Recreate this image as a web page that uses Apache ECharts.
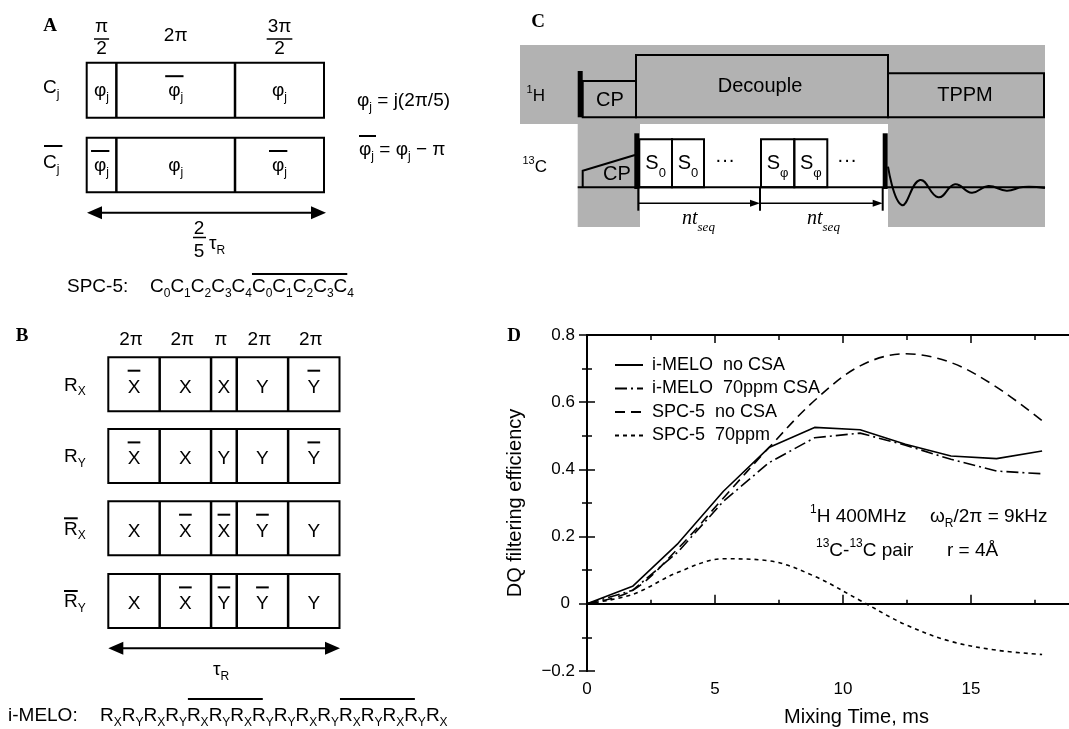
<!DOCTYPE html>
<html>
<head>
<meta charset="utf-8">
<script src="https://cdn.jsdelivr.net/npm/echarts@6/dist/echarts.min.js"></script>
<style>
html, body { margin: 0; padding: 0; background: #fff; }
#main { width: 1069px; height: 729px; }
</style>
</head>
<body>
<div id="main"></div>
<script>
// ---- panel D data (DQ filtering efficiency vs mixing time) ----
const mixTime = [0, 1.78, 3.56, 5.33, 7.11, 8.89, 10.67, 12.44, 14.22, 16, 17.78];
const meloNoCsa = [0, 0.052, 0.18, 0.335, 0.465, 0.525, 0.518, 0.475, 0.44, 0.432, 0.455];
const melo70 = [0, 0.04, 0.155, 0.305, 0.42, 0.494, 0.508, 0.472, 0.43, 0.395, 0.387];
const spcNoCsa = [0, 0.04, 0.165, 0.315, 0.465, 0.605, 0.708, 0.744, 0.718, 0.645, 0.545];
const spc70 = [0, 0.028, 0.094, 0.134, 0.128, 0.082, 0.01, -0.062, -0.112, -0.138, -0.151];
const seriesNames = ['i-MELO  no CSA', 'i-MELO  70ppm CSA', 'SPC-5  no CSA', 'SPC-5  70ppm'];

// ---- diagram content (panels A, B, C) ----
const phaseA = [0.5, 2, 1.5];            // pulse lengths in units of pi
const phaseLabelA = [['π', '2'], ['2π'], ['3π', '2']];
const cellsA = [['φ', '-φ', 'φ'], ['-φ', 'φ', '-φ']];
const phaseB = [2, 2, 1, 2, 2];
const phaseLabelB = ['2π', '2π', 'π', '2π', '2π'];
const cellsB = [
    ['-X', 'X', 'X', 'Y', '-Y'],
    ['-X', 'X', 'Y', 'Y', '-Y'],
    ['X', '-X', '-X', '-Y', 'Y'],
    ['X', '-X', '-Y', '-Y', 'Y']
];
const rowSubB = ['X', 'Y', 'X', 'Y'];
const rowBarB = [false, false, true, true];
const spcSubs = ['0', '1', '2', '3', '4', '0', '1', '2', '3', '4'];
const imeloSubs = ['X', 'Y', 'X', 'Y', 'X', 'Y', 'X', 'Y', 'Y', 'X', 'Y', 'X', 'Y', 'X', 'Y', 'X'];
const imeloBars = [[4, 7], [11, 14]];
// FID wiggle extrema (offset from end of pulse, offset from baseline)
const fidDx = [0, 13.7, 32, 50.3, 67, 83.7, 100.3, 118.7, 135, 157];
const fidDy = [-20.6, 17.7, -7.3, 10, -3, 5.4, -1.3, 3.4, -0.3, 0.7];

const SANS = '"Liberation Sans", Arial, sans-serif';
const SERIF = '"Liberation Serif", "Times New Roman", serif';
const BLACK = '#000';
const GRAY = '#b2b2b2';
const FS = 19;

const g = [];
const mctx = document.createElement('canvas').getContext('2d');
function fontStr(size, fam, weight, style) {
    return (style || 'normal') + ' ' + (weight || 'normal') + ' ' + size + 'px ' + (fam || SANS);
}
function tw(s, f) { mctx.font = f; return mctx.measureText(s).width; }
function text(x, y, s, f, align) {
    g.push({
        type: 'text', silent: true, x: x, y: y,
        style: { text: s, font: f, fill: BLACK, textAlign: align || 'left', textVerticalAlign: 'middle', align: align || 'left', verticalAlign: 'middle' }
    });
}
// a run of text pieces: [str, kind] kind '' normal, 'b' subscript, 'p' superscript
function run(x, y, toks, size, o) {
    o = o || {};
    const small = Math.round(size * 0.63);
    const items = toks.map(k => {
        const kind = k[1] || '';
        const f = fontStr(kind ? small : size, o.fam, o.weight, o.style);
        return { s: k[0], kind: kind, f: f, w: tw(k[0], f) };
    });
    const total = items.reduce((a, b) => a + b.w, 0);
    let cx = o.align === 'center' ? x - total / 2 : o.align === 'right' ? x - total : x;
    const pos = [];
    items.forEach(it => {
        const dy = it.kind === 'b' ? (o.subDy || size * 0.33) : it.kind === 'p' ? -size * 0.36 : 0;
        text(cx, y + dy, it.s, it.f);
        pos.push([cx, cx + it.w]);
        cx += it.w;
    });
    return pos;
}
function line(x1, y1, x2, y2, w) {
    g.push({ type: 'line', silent: true, shape: { x1: x1, y1: y1, x2: x2, y2: y2 }, style: { stroke: BLACK, lineWidth: w || 1.5 } });
}
function box(x, y, w, h, fill, lw) {
    g.push({ type: 'rect', silent: true, shape: { x: x, y: y, width: w, height: h }, style: fill ? { fill: fill } : { fill: 'none', stroke: BLACK, lineWidth: lw || 2 } });
}
function head(x, y, dir, len, half) {
    g.push({ type: 'polygon', silent: true, shape: { points: [[x, y], [x - dir * len, y - half], [x - dir * len, y + half]] }, style: { fill: BLACK } });
}
function dblArrow(x1, x2, y) {
    line(x1 + 8, y, x2 - 8, y, 2);
    head(x1, y, -1, 15, 6.5);
    head(x2, y, 1, 15, 6.5);
}
function edges(x0, x1, phases) {
    const tot = phases.reduce((a, b) => a + b, 0);
    const out = [x0];
    let acc = 0;
    phases.forEach(p => { acc += p; out.push(x0 + (x1 - x0) * acc / tot); });
    return out;
}
function cellLabel(cx, cy, lab, size, withJ, barDy) {
    const bar = lab[0] === '-';
    const s = bar ? lab.slice(1) : lab;
    const toks = withJ ? [[s], ['j', 'b']] : [[s]];
    const pos = run(cx, cy, toks, size, { align: 'center' });
    if (bar) {
        const ext = withJ ? 3 : 0;
        line(pos[0][0] - ext, cy - barDy, pos[0][1] + ext, cy - barDy, 2);
    }
}

// ================= panel A =================
text(50, 26, 'A', fontStr(19, SERIF, 'bold'), 'center');
const exA = edges(86.7, 324, phaseA);
phaseLabelA.forEach((lab, i) => {
    const cx = (exA[i] + exA[i + 1]) / 2;
    if (lab.length === 2) {
        const top = run(cx, 27, [[lab[0]]], FS, { align: 'center' });
        line(top[0][0] - 1, 39, top[0][1] + 1, 39, 1.5);
        run(cx, 49, [[lab[1]]], FS, { align: 'center' });
    } else {
        run(cx, 36, [[lab[0]]], FS, { align: 'center' });
    }
});
const rowsA = [[62.7, 117.7], [137.7, 192.3]];
rowsA.forEach((r, ri) => {
    box(exA[0], r[0], exA[exA.length - 1] - exA[0], r[1] - r[0]);
    exA.slice(1, -1).forEach(x => line(x, r[0], x, r[1], 2.5));
    const cy = (r[0] + r[1]) / 2;
    cellsA[ri].forEach((lab, ci) => cellLabel((exA[ci] + exA[ci + 1]) / 2, cy + 1, lab, FS, true, 15));
    const p = run(43, cy - 2, [['C'], ['j', 'b']], FS);
    if (ri === 1) line(p[0][0] + 1, cy - 19, p[1][1] + 3, cy - 19, 2);
});
run(357, 101, [['φ'], ['j', 'b'], [' = j(2π/5)']], FS);
const eq2 = run(359, 150, [['φ'], ['j', 'b'], [' = '], ['φ'], ['j', 'b'], [' − π']], FS);
line(eq2[0][0], 136, eq2[1][1] + 2, 136, 2);
dblArrow(87, 326, 212.7);
run(199, 229, [['2']], FS, { align: 'center' });
line(193, 237.5, 206, 237.5, 1.5);
run(199, 252, [['5']], FS, { align: 'center' });
run(209, 244, [['τ'], ['R', 'b']], FS);
run(67, 287, [['SPC-5:']], FS);
const spcToks = [];
spcSubs.forEach(s => { spcToks.push(['C']); spcToks.push([s, 'b']); });
const spcPos = run(150, 287, spcToks, FS);
line(spcPos[10][0], 274, spcPos[18][1], 274, 2);

// ================= panel B =================
text(22, 336, 'B', fontStr(19, SERIF, 'bold'), 'center');
const exB = edges(108.3, 339.5, phaseB);
phaseLabelB.forEach((lab, i) => run((exB[i] + exB[i + 1]) / 2 - 3, 340, [[lab]], FS, { align: 'center' }));
const rowTopsB = [357.3, 429, 501.3, 574];
const rowH = 54;
rowTopsB.forEach((top, ri) => {
    box(exB[0], top, exB[exB.length - 1] - exB[0], rowH);
    exB.slice(1, -1).forEach(x => line(x, top, x, top + rowH, 2.5));
    const cy = top + rowH / 2;
    cellsB[ri].forEach((lab, ci) => cellLabel((exB[ci] + exB[ci + 1]) / 2, cy + 3, lab, FS, false, 16.6));
    const p = run(64, cy + 1, [['R'], [rowSubB[ri], 'b']], FS);
    if (rowBarB[ri]) line(p[0][0], top + 17, p[0][1], top + 17, 2);
});
dblArrow(108.3, 340, 648.3);
run(213, 670, [['τ'], ['R', 'b']], FS);
run(8, 716, [['i-MELO:']], FS);
const imToks = [];
imeloSubs.forEach(s => { imToks.push(['R']); imToks.push([s, 'b']); });
const imPos = run(100, 716, imToks, FS);
imeloBars.forEach(b => line(imPos[b[0] * 2][0] + 1, 699, imPos[b[1] * 2][1] - 3, 699, 2));

// ================= panel C =================
box(520, 45, 525, 79, GRAY);
box(577.7, 124, 62.3, 103, GRAY);
box(888, 124, 157, 103, GRAY);
text(538, 22, 'C', fontStr(19, SERIF, 'bold'), 'center');
run(545, 96, [['1', 'p'], ['H']], 17, { align: 'right' });
run(547, 167, [['13', 'p'], ['C']], 17, { align: 'right' });
// 1H channel
box(577.7, 71, 5, 46.3, BLACK);
box(582.7, 81, 53.3, 36.3);
box(636, 55, 252, 62.3);
box(888, 73.3, 156, 44);
text(610, 100, 'CP', fontStr(20), 'center');
text(760, 86, 'Decouple', fontStr(20), 'center');
text(965, 95, 'TPPM', fontStr(20), 'center');
// 13C channel
line(577.7, 187.3, 1045, 187.3, 2);
g.push({ type: 'polyline', silent: true, shape: { points: [[582.7, 187.3], [582.7, 170.7], [635, 155]] }, style: { stroke: BLACK, lineWidth: 2, fill: 'none' } });
text(617, 174, 'CP', fontStr(20), 'center');
box(634.3, 133.3, 5, 55.7, BLACK);
box(882.7, 133.3, 5, 55.7, BLACK);
const sEdges = [[639.3, 672, '0'], [672, 704, '0'], [761, 794.3, 'φ'], [794.3, 827.3, 'φ']];
sEdges.forEach(s => {
    box(s[0], 139.3, s[1] - s[0], 48);
    run((s[0] + s[1]) / 2, 163, [['S'], [s[2], 'b']], 20, { align: 'center', subDy: 10 });
});
text(725, 160, '···', fontStr(20), 'center');
text(847, 160, '···', fontStr(20), 'center');
g.push({
    type: 'polyline', silent: true,
    shape: { points: fidDx.map((dx, i) => [888 + dx, 187.3 + fidDy[i]]), smooth: 0.45 },
    style: { stroke: BLACK, lineWidth: 2, fill: 'none' }
});
[638.3, 760, 882.7].forEach(x => line(x, 188, x, 210.7, 2));
line(638.3, 203.3, 752, 203.3, 1.5);
head(760, 203.3, 1, 10, 3.5);
line(760, 203.3, 875, 203.3, 1.5);
head(882.7, 203.3, 1, 10, 3.5);
run(682, 219, [['nt'], ['seq', 'b']], 20, { fam: SERIF, style: 'italic', subDy: 9 });
run(807, 219, [['nt'], ['seq', 'b']], 20, { fam: SERIF, style: 'italic', subDy: 9 });

// ================= panel D annotations =================
text(514, 336, 'D', fontStr(19, SERIF, 'bold'), 'center');
run(810, 517, [['1', 'p'], ['H 400MHz']], FS);
run(930, 517, [['ω'], ['R', 'b'], ['/2π = 9kHz']], FS);
run(816, 551, [['13', 'p'], ['C-'], ['13', 'p'], ['C pair']], FS);
run(947, 551, [['r = 4Å']], FS);

// ================= chart =================
const chart = echarts.init(document.getElementById('main'));
const tickStyle = { color: BLACK, width: 1.5 };
const baseX = {
    type: 'value', min: 0, max: 18.87, gridIndex: 0,
    splitLine: { show: false }, axisLabel: { show: false }
};
const baseY = {
    type: 'value', min: -0.2, max: 0.8, interval: 0.2, gridIndex: 0,
    splitLine: { show: false },
    minorTick: { show: true, splitNumber: 2, length: 5, lineStyle: tickStyle },
    minorSplitLine: { show: false }
};
function mk(arr) { return mixTime.map((t, i) => [t, arr[i]]); }
const lineTypes = ['solid', [12, 4, 2, 4], [10, 6], [4, 4]];
const lineData = [meloNoCsa, melo70, spcNoCsa, spc70];

chart.setOption({
    animation: false,
    backgroundColor: '#fff',
    textStyle: { fontFamily: SANS, color: BLACK },
    grid: { left: 587, top: 335, width: 483, height: 336, containLabel: false, outerBoundsMode: 'none' },
    legend: {
        data: seriesNames, orient: 'vertical', left: 609, top: 351,
        itemWidth: 28, itemHeight: 12, itemGap: 5.5,
        itemStyle: { opacity: 0 },
        textStyle: { fontSize: 18, color: BLACK, fontFamily: SANS, padding: [0, 0, 0, 4] },
        inactiveColor: BLACK
    },
    xAxis: [
        Object.assign({}, baseX, {
            position: 'bottom', interval: 5,
            axisLine: { show: true, lineStyle: { color: BLACK, width: 2 } },
            axisTick: { show: true, inside: true, length: 9, lineStyle: tickStyle },
            axisLabel: {
                show: true, fontSize: 17, color: BLACK, margin: 10,
                formatter: v => (Math.abs(v % 5) < 1e-6 ? String(v) : '')
            },
            name: 'Mixing Time, ms', nameLocation: 'middle', nameGap: 36,
            nameTextStyle: { fontSize: 20, color: BLACK, padding: [0, 0, 0, 56] }
        }),
        Object.assign({}, baseX, {
            position: 'bottom', interval: 2.5, axisLine: { show: false },
            axisTick: { show: true, inside: true, length: 4, lineStyle: tickStyle }
        }),
        Object.assign({}, baseX, {
            position: 'top', interval: 5,
            axisLine: { show: true, lineStyle: { color: BLACK, width: 2 } },
            axisTick: { show: true, inside: true, length: 8, lineStyle: tickStyle }
        }),
        Object.assign({}, baseX, {
            position: 'top', interval: 2.5, axisLine: { show: false },
            axisTick: { show: true, inside: true, length: 5, lineStyle: tickStyle }
        })
    ],
    yAxis: [
        Object.assign({}, baseY, {
            position: 'left',
            axisLine: { show: true, lineStyle: { color: BLACK, width: 2 } },
            axisTick: { show: true, inside: true, length: 8, lineStyle: tickStyle },
            axisLabel: {
                fontSize: 17, color: BLACK, margin: 12,
                formatter: v => (Math.abs(v) < 1e-9 ? '{z|0}' : (v < 0 ? '\u2212' : '') + Math.abs(v).toFixed(1)),
                rich: { z: { fontSize: 17, color: BLACK, fontFamily: SANS, padding: [0, 5, 0, 0] } }
            },
            name: 'DQ filtering efficiency', nameLocation: 'middle', nameGap: 62,
            nameTextStyle: { fontSize: 20, color: BLACK }
        }),
        Object.assign({}, baseY, {
            position: 'right',
            axisLine: { show: true, lineStyle: { color: BLACK, width: 2 } },
            axisTick: { show: true, inside: true, length: 8, lineStyle: tickStyle },
            axisLabel: { show: false }
        })
    ],
    series: seriesNames.map((name, i) => ({
        name: name, type: 'line', xAxisIndex: 0, yAxisIndex: 0,
        data: mk(lineData[i]),
        smooth: i >= 2 ? 0.35 : false,
        showSymbol: false, symbol: 'none',
        lineStyle: { color: BLACK, width: 1.6, type: lineTypes[i] },
        itemStyle: { color: BLACK }
    })),
    graphic: { elements: g }
});
</script>
</body>
</html>
